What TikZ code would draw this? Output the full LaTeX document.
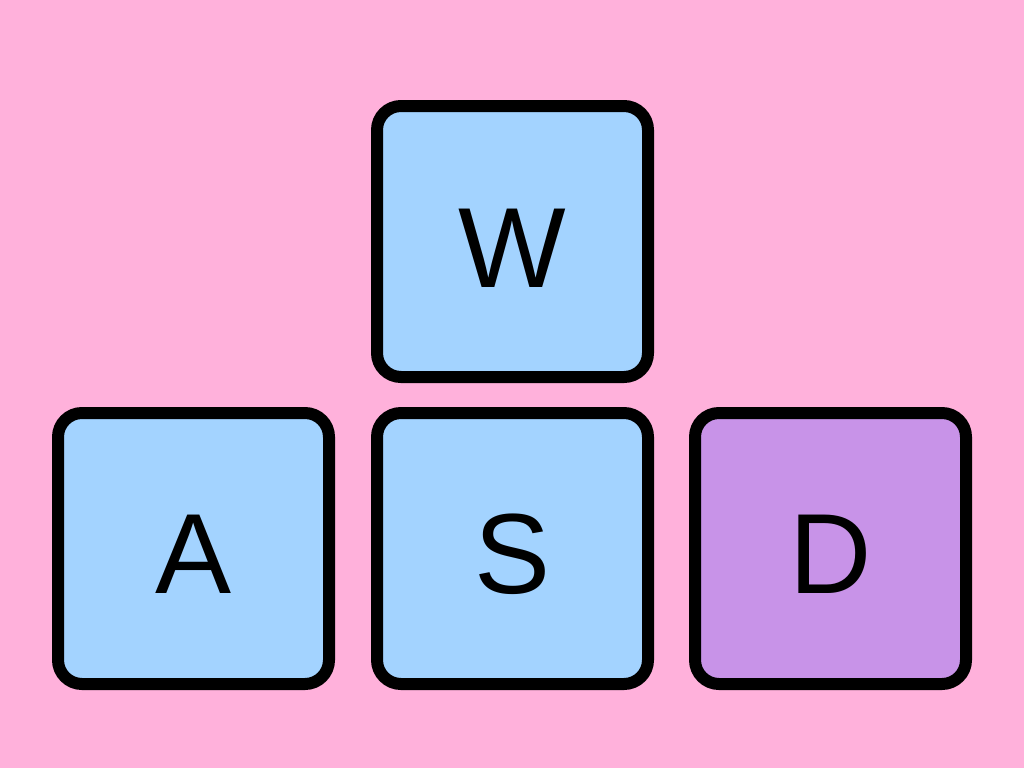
\documentclass[tikz,border=0pt]{standalone}
\usepackage{fontspec}
\setmainfont{Liberation Sans}
\usetikzlibrary{calc}
\definecolor{bgpink}{HTML}{FFB1DB}
\definecolor{keyblue}{HTML}{A3D3FF}
\definecolor{keypurple}{HTML}{C893E8}
\tikzset{
  keybox/.style={draw=black, line width=12pt, rounded corners=24pt,
    minimum width=271pt, minimum height=271pt, inner sep=0pt, rectangle},
  keyletter/.style={anchor=base, inner sep=0pt, font=\fontsize{114}{114}\selectfont}
}
\begin{document}
\begin{tikzpicture}[x=1pt,y=-1pt]
\fill[bgpink] (0,0) rectangle (1024,768);
\useasboundingbox (0,0) rectangle (1024,768);
\node[keybox, fill=keyblue] (w) at (512.5,241.5) {};
\node[keybox, fill=keyblue] (a) at (193.5,548.5) {};
\node[keybox, fill=keyblue] (s) at (512.5,548.5) {};
\node[keybox, fill=keypurple] (d) at (830.5,548.5) {};
\node[keyletter] (wl) at ($(w.center)+(0,45.5)$) {W};
\node[keyletter] (al) at ($(a.center)+(0,44.5)$) {A};
\node[keyletter] (sl) at ($(s.center)+(0,44.5)$) {S};
\node[keyletter] (dl) at ($(d.center)+(0,44.5)$) {D};
\end{tikzpicture}
\end{document}
